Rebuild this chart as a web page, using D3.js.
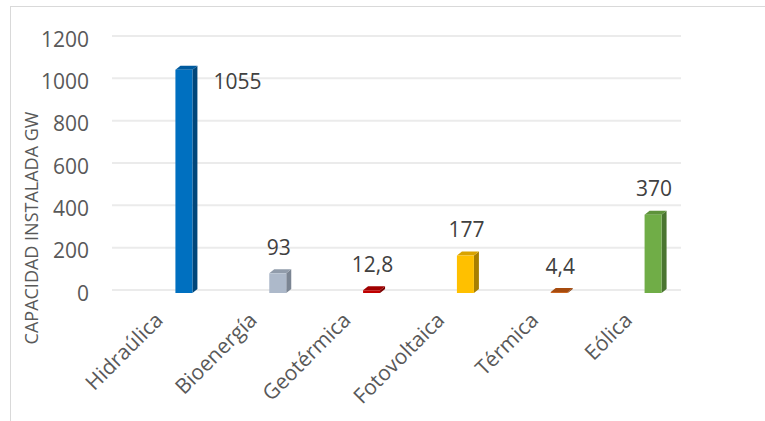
<!DOCTYPE html>
<html>
<head>
<meta charset="utf-8">
<script src="https://cdn.jsdelivr.net/npm/d3@7"></script>
<style>
  body { margin: 0; background: #fff; }
  text { font-family: "Open Sans", sans-serif; fill: #595959; }
</style>
</head>
<body>
<script>
// datos del gráfico
const categorias = ["Hidraúlica", "Bioenergía", "Geotérmica", "Fotovoltaica", "Térmica", "Eólica"];
const valores = [1055, 93, 12.8, 177, 4.4, 370];
const etiquetas = ["1055", "93", "12,8", "177", "4,4", "370"];
const ticksY = [0, 200, 400, 600, 800, 1000, 1200];
const colores = [
  { cara: "#0070C0", lado: "#00467A", tapa: "#005A9E" },
  { cara: "#ADB9CA", lado: "#7B8593", tapa: "#919CAB" },
  { cara: "#C00000", lado: "#7A0000", tapa: "#A00000" },
  { cara: "#FFC000", lado: "#A87F00", tapa: "#D9A300" },
  { cara: "#C55A11", lado: "#80390A", tapa: "#A64B0E" },
  { cara: "#70AD47", lado: "#4A7530", tapa: "#5E933B" }
];

const W = 765, H = 421;
const prof = { dx: 5, dy: 4 }; // profundidad 3D

const svg = d3.select("body").append("svg")
  .attr("width", W)
  .attr("height", H);

// borde del área del gráfico
svg.append("rect")
  .attr("x", 10.5).attr("y", 6.5)
  .attr("width", W + 10).attr("height", H + 10)
  .attr("fill", "none")
  .attr("stroke", "#d9d9d9");

const x = d3.scaleBand()
  .domain(categorias)
  .range([137, 700])
  .padding(0);

const y = d3.scaleLinear()
  .domain([0, 1200])
  .range([293, 39]);

const barW = 17;

// líneas de cuadrícula (pared del fondo)
svg.append("g")
  .selectAll("line")
  .data(ticksY)
  .enter().append("line")
  .attr("x1", 112)
  .attr("x2", 681)
  .attr("y1", d => y(d) - 3)
  .attr("y2", d => y(d) - 3)
  .attr("stroke", "#ebebeb")
  .attr("stroke-width", 2);

// etiquetas del eje Y
svg.append("g")
  .selectAll("text")
  .data(ticksY)
  .enter().append("text")
  .attr("x", 89)
  .attr("y", d => y(d))
  .attr("dy", "0.36em")
  .attr("text-anchor", "end")
  .style("font-size", "21px")
  .text(d => d);

// título del eje Y
svg.append("text")
  .attr("transform", "translate(38, 228) rotate(-90)")
  .attr("text-anchor", "middle")
  .style("font-size", "18px")
  .text("CAPACIDAD INSTALADA GW");

// barras 3D
const barras = svg.append("g")
  .selectAll("g")
  .data(valores)
  .enter().append("g");

const x0 = (d, i) => x(categorias[i]) + x.bandwidth() / 2 - barW / 2;

// lado
barras.append("path")
  .attr("d", (d, i) => {
    const xl = x0(d, i) + barW, yt = y(d), yb = y(0);
    return `M${xl},${yt} L${xl + prof.dx},${yt - prof.dy} L${xl + prof.dx},${yb - prof.dy} L${xl},${yb} Z`;
  })
  .attr("fill", (d, i) => colores[i].lado);

// tapa
barras.append("path")
  .attr("d", (d, i) => {
    const xl = x0(d, i), yt = y(d);
    return `M${xl},${yt} L${xl + prof.dx},${yt - prof.dy} L${xl + barW + prof.dx},${yt - prof.dy} L${xl + barW},${yt} Z`;
  })
  .attr("fill", (d, i) => colores[i].tapa);

// cara frontal
barras.append("rect")
  .attr("x", (d, i) => x0(d, i))
  .attr("y", d => y(d))
  .attr("width", barW)
  .attr("height", d => y(0) - y(d))
  .attr("fill", (d, i) => colores[i].cara);

// etiquetas de datos
svg.append("g")
  .selectAll("text")
  .data(valores)
  .enter().append("text")
  .attr("x", (d, i) => d > 1000 ? x0(d, i) + barW + 21 : x0(d, i) + barW / 2 + 1)
  .attr("y", d => d > 1000 ? y(d) + 12 : y(d) - 26)
  .attr("dy", "0.36em")
  .attr("text-anchor", d => d > 1000 ? "start" : "middle")
  .style("font-size", "21px")
  .style("fill", "#404040")
  .text((d, i) => etiquetas[i]);

// etiquetas de categorías
svg.append("g")
  .selectAll("text")
  .data(categorias)
  .enter().append("text")
  .attr("transform", d => `translate(${x(d) + x.bandwidth() / 2 - 30}, 311) rotate(-45)`)
  .attr("text-anchor", "end")
  .attr("dy", "0.7em")
  .style("font-size", "21px")
  .text(d => d);
</script>
</body>
</html>
